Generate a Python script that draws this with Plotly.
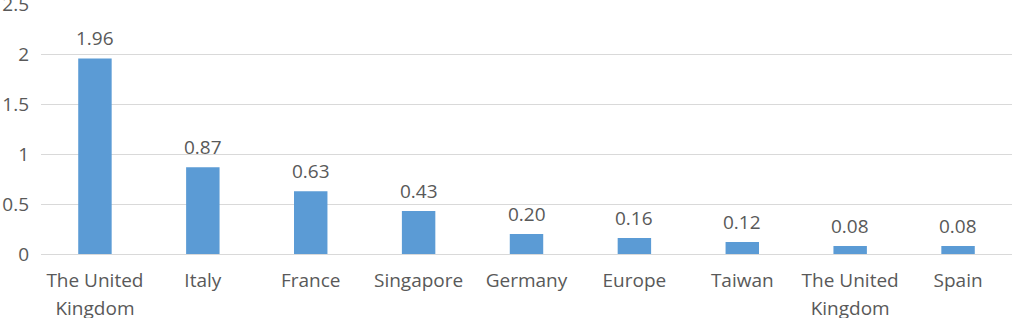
import plotly.graph_objects as go

categories = ["The United", "Italy", "France", "Singapore", "Germany",
              "Europe", "Taiwan", "The United", "Spain"]
categories_line2 = ["Kingdom", "", "", "", "", "", "", "Kingdom", ""]
values = [1.96, 0.87, 0.63, 0.43, 0.20, 0.16, 0.12, 0.08, 0.08]
ytick_vals = [0, 0.5, 1, 1.5, 2, 2.5]
ytick_text = ["0", "0.5", "1", "1.5", "2", "2.5"]

xpos = list(range(len(categories)))
font_family = "Open Sans, Noto Sans, sans-serif"
text_color = "#595959"
fsize = 19

fig = go.Figure()
fig.add_trace(go.Bar(
    x=xpos, y=values, width=0.31,
    marker=dict(color="#5B9BD5", line=dict(width=0)),
    hoverinfo="skip",
))
# invisible trace to activate second x axis (second line of labels)
fig.add_trace(go.Scatter(x=xpos, y=[0] * len(xpos), xaxis="x2", mode="markers",
                         marker=dict(opacity=0), hoverinfo="skip"))

for xi, v in zip(xpos, values):
    fig.add_annotation(x=xi, y=v, text=f"{v:.2f}", showarrow=False,
                       yanchor="bottom", yshift=5,
                       font=dict(family=font_family, size=fsize, color=text_color))

xrange = [-0.5, len(categories) - 0.5]
fig.update_layout(
    width=1016, height=318,
    margin=dict(l=41, r=4, t=4, b=64, autoexpand=False),
    plot_bgcolor="white", paper_bgcolor="white",
    showlegend=False,
    font=dict(family=font_family, size=fsize, color=text_color),
    xaxis=dict(range=xrange, tickmode="array", automargin=False,
               tickvals=xpos, ticktext=categories, showgrid=False,
               zeroline=False, showline=False, ticks="",
               ticklabelstandoff=13,
               tickfont=dict(size=fsize, color=text_color)),
    xaxis2=dict(range=xrange, tickmode="array", overlaying="x", side="bottom",
                anchor="y", matches="x", automargin=False,
                tickvals=xpos, ticktext=categories_line2, showgrid=False,
                zeroline=False, showline=False, ticks="",
                ticklabelstandoff=41,
                tickfont=dict(size=fsize, color=text_color)),
    yaxis=dict(range=[0, 2.505], tickmode="array", tickvals=ytick_vals,
               automargin=False,
               ticktext=ytick_text, showgrid=True, gridcolor="#D9D9D9",
               gridwidth=1, zeroline=True, zerolinecolor="#D9D9D9",
               zerolinewidth=1, showline=False, ticks="",
               ticklabelstandoff=11, ticklabeloverflow="allow",
               tickfont=dict(size=fsize, color=text_color)),
)

fig.write_html("out.html")
